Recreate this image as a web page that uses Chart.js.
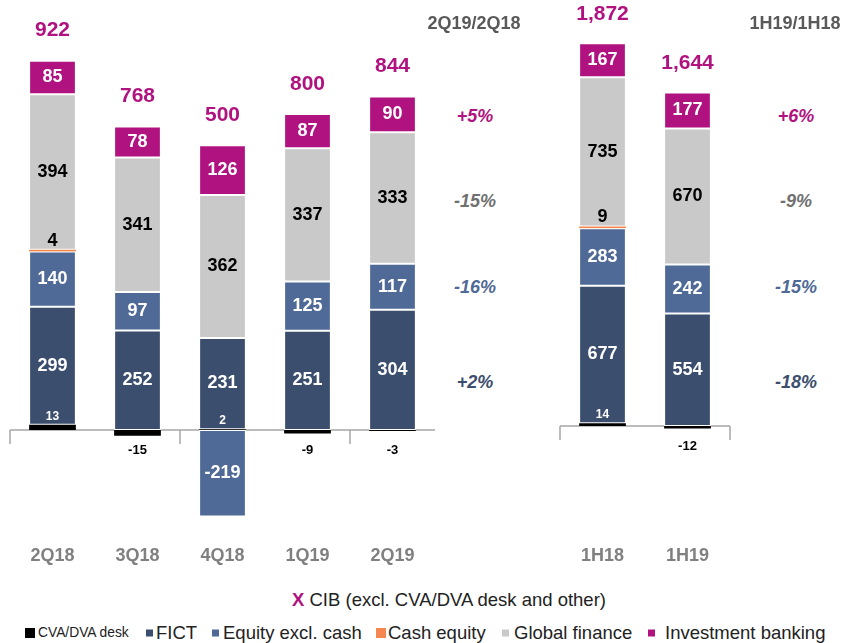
<!DOCTYPE html>
<html>
<head>
<meta charset="utf-8">
<script src="https://cdn.jsdelivr.net/npm/chart.js@4/dist/chart.umd.min.js"></script>
<style>
html,body{margin:0;padding:0;background:#fff;}
body{width:844px;height:643px;position:relative;overflow:hidden;font-family:"Liberation Sans",Arial,sans-serif;}
#c1{position:absolute;left:0;top:0;}
#c2{position:absolute;left:540px;top:0;}
.ann{position:absolute;transform:translate(-50%,-50%);white-space:nowrap;font-weight:bold;line-height:1;font-size:18px;}
.pct{font-style:italic;}
#legTitle{position:absolute;left:449px;top:600px;transform:translate(-50%,-50%);font-size:18.5px;color:#222;white-space:nowrap;line-height:1;}
#legTitle b{color:#B0137F;}
.sq{position:absolute;transform:translateY(-50%);}
.lt{position:absolute;transform:translateY(-50%);white-space:nowrap;line-height:1;color:#222;font-size:18.5px;}
</style>
</head>
<body>
<canvas id="c1" width="440" height="573"></canvas>
<canvas id="c2" width="210" height="573"></canvas>
<div id="legTitle"></div>
<script>
// ---------- DATA ----------
const quarterLabels = ['2Q18','3Q18','4Q18','1Q19','2Q19'];
const halfLabels = ['1H18','1H19'];
const seriesNames = ['CVA/DVA desk','FICT','Equity excl. cash','Cash equity','Global finance','Investment banking'];

const cvaQ    = [13, -15, 2, -9, -3];
const fictQ   = [299, 252, 231, 251, 304];
const equityQ = [140, 97, -219, 125, 117];
const cashQ   = [4, 0, 0, 0, 0];
const globalQ = [394, 341, 362, 337, 333];
const ibQ     = [85, 78, 126, 87, 90];
const totalQ  = [922, 768, 500, 800, 844];

const cvaH    = [14, -12];
const fictH   = [677, 554];
const equityH = [283, 242];
const cashH   = [9, 0];
const globalH = [735, 670];
const ibH     = [167, 177];
const totalH  = [1872, 1644];

const growthQTitle = '2Q19/2Q18';
const growthQ = ['+5%', '-15%', '-16%', '+2%'];   // Investment banking, Global finance, Equity, FICT
const growthHTitle = '1H19/1H18';
const growthH = ['+6%', '-9%', '-15%', '-18%'];
const legendTitle = 'CIB (excl. CVA/DVA desk and other)';

// ---------- STYLE ----------
const FONT = '"Liberation Sans", Arial, sans-serif';
const colors = ['#000000', '#3B4E6E', '#4F6A96', '#F4874F', '#C8C9C8', '#B0137F'];
const magenta = '#B0137F';

function makeDatasets(series) {
  return series.map((d, i) => ({
    label: seriesNames[i],
    data: d,
    backgroundColor: colors[i],
    borderColor: '#ffffff',
    borderWidth: (i === 0 || i === 3) ? 0 : 1,
    borderSkipped: false,
    barPercentage: 0.55,
    categoryPercentage: 1,
    stack: 's'
  }));
}

const zeroAxis = {
  id: 'zeroAxis',
  beforeDatasetsDraw(chart, args, opts) {
    const {ctx, chartArea, scales} = chart;
    const y0 = scales.y.getPixelForValue(0);
    const n = chart.data.labels.length;
    const step = (chartArea.right - chartArea.left) / n;
    ctx.save();
    ctx.strokeStyle = '#A6A6A6';
    ctx.lineWidth = 1.5;
    ctx.beginPath();
    ctx.moveTo(chartArea.left, y0);
    ctx.lineTo(chartArea.right, y0);
    for (let i = 0; i <= n; i += opts.every) {
      const px = chartArea.left + i * step;
      ctx.moveTo(px, y0);
      ctx.lineTo(px, y0 + 14);
    }
    ctx.stroke();
    ctx.restore();
  }
};

const segLabels = {
  id: 'segLabels',
  afterDatasetsDraw(chart, args, opts) {
    const ctx = chart.ctx;
    const y0 = chart.scales.y.getPixelForValue(0);
    ctx.save();
    ctx.textAlign = 'center';
    ctx.textBaseline = 'middle';
    chart.data.datasets.forEach((ds, di) => {
      const meta = chart.getDatasetMeta(di);
      meta.data.forEach((el, j) => {
        const v = ds.data[j];
        if (!v) return;
        let y, color, size;
        if (di === 0) {
          if (v > 0) { y = Math.min(el.y, el.base) - 8; color = '#fff'; size = 12; }
          else { y = y0 + 20; color = '#000'; size = 13; }
        } else if (di === 3) {
          y = el.y - 9; color = '#000'; size = 18;
        } else {
          y = (el.y + el.base) / 2; color = (di === 4) ? '#000' : '#fff'; size = 18;
        }
        ctx.font = 'bold ' + size + 'px ' + FONT;
        ctx.fillStyle = color;
        ctx.fillText(String(v), el.x, y);
      });
    });
    const top = chart.getDatasetMeta(chart.data.datasets.length - 1);
    ctx.font = 'bold 21px ' + FONT;
    ctx.fillStyle = magenta;
    (opts.totals || []).forEach((t, j) => {
      const el = top.data[j];
      ctx.fillText(t.toLocaleString('en-US'), el.x, Math.min(el.y, el.base) - opts.gap);
    });
    ctx.restore();
  }
};

function makeChart(id, labels, series, totals, yMin, yMax, padL, padR, gap) {
  return new Chart(document.getElementById(id), {
    type: 'bar',
    data: { labels: labels, datasets: makeDatasets(series) },
    options: {
      responsive: false,
      animation: false,
      layout: { padding: { left: padL, right: padR, top: 35, bottom: 0 } },
      plugins: {
        legend: { display: false },
        tooltip: { enabled: false },
        zeroAxis: { every: 2 },
        segLabels: { totals: totals, gap: gap }
      },
      scales: {
        x: {
          stacked: true,
          grid: { display: false, drawTicks: false },
          border: { display: false },
          ticks: { color: '#808080', font: { family: FONT, size: 18, weight: 'bold' }, padding: 12 },
          afterFit: s => { s.height = 40; }
        },
        y: { stacked: true, display: false, min: yMin, max: yMax }
      }
    },
    plugins: [zeroAxis, segLabels]
  });
}

makeChart('c1', quarterLabels, [cvaQ, fictQ, equityQ, cashQ, globalQ, ibQ], totalQ, -261, 1000, 10, 5, 30);
makeChart('c2', halfLabels, [cvaH, fictH, equityH, cashH, globalH, ibH], totalH, -527, 1926, 20, 20, 29);

// ---------- ANNOTATIONS ----------
const pctColors = [magenta, '#707070', '#4F6A96', '#3B4E6E'];
const pctRowsY = [116, 201, 287, 382];
function addAnn(text, x, y, color, cls) {
  const d = document.createElement('div');
  d.className = 'ann' + (cls ? ' ' + cls : '');
  d.textContent = text;
  d.style.left = x + 'px';
  d.style.top = y + 'px';
  d.style.color = color;
  document.body.appendChild(d);
}
addAnn(growthQTitle, 474, 23, '#595959');
addAnn(growthHTitle, 795, 23, '#595959');
growthQ.forEach((t, i) => addAnn(t, 475, pctRowsY[i], pctColors[i], 'pct'));
growthH.forEach((t, i) => addAnn(t, 796, pctRowsY[i], pctColors[i], 'pct'));

// ---------- LEGEND ----------
const lt = document.getElementById('legTitle');
const xb = document.createElement('b'); xb.textContent = 'X';
lt.appendChild(xb);
lt.appendChild(document.createTextNode(' ' + legendTitle));

const legSqX = [25, 146, 212, 376, 502, 648];
const legTxtX = [38, 156, 223, 388, 514, 665];
const legY = 633;
seriesNames.forEach((name, i) => {
  const big = (i === 0 || i === 3);
  const sq = document.createElement('div');
  sq.className = 'sq';
  sq.style.background = colors[i];
  sq.style.width = (big ? 10 : 7) + 'px';
  sq.style.height = (big ? 10 : 7) + 'px';
  sq.style.left = legSqX[i] + 'px';
  sq.style.top = legY + 'px';
  document.body.appendChild(sq);
  const t = document.createElement('div');
  t.className = 'lt';
  t.textContent = name;
  t.style.left = legTxtX[i] + 'px';
  t.style.top = legY + 'px';
  if (i === 0) t.style.fontSize = '13.8px';
  document.body.appendChild(t);
});
</script>
</body>
</html>
